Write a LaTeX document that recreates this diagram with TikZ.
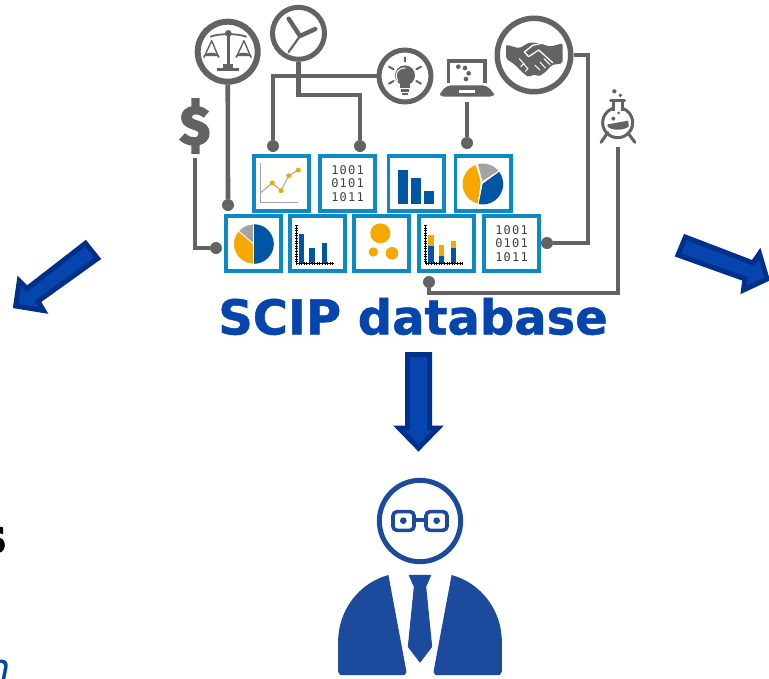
\documentclass[tikz,border=0pt]{standalone}
\usepackage{fontspec}
\setmainfont{DejaVu Sans}
\newfontfamily\binfont[LetterSpace=10]{DejaVu Sans Mono}
\newfontfamily\heavyfont[UprightFont=* Bold,FakeBold=1]{DejaVu Sans}
\newfontfamily\dollarfont[UprightFont=* Bold,FakeBold=4]{Fira Sans}
\usetikzlibrary{calc}
\definecolor{icongray}{HTML}{636363}
\definecolor{tileblue}{HTML}{0B8AC6}
\definecolor{titleblue}{HTML}{0645AD}
\definecolor{arrowedge}{HTML}{00308A}
\definecolor{chartblue}{HTML}{0055A5}
\definecolor{chartorange}{HTML}{F7A800}
\definecolor{chartgray}{HTML}{A3A3A3}
\definecolor{personblue}{HTML}{1C4A9C}
\tikzset{
  tile/.style={draw=tileblue,line width=3.6pt,fill=white,minimum size=55.4pt,inner sep=0pt,outer sep=1.8pt},
  ring/.style={draw=icongray,circle,fill=white,inner sep=0pt},
  joint/.style={fill=icongray,circle,minimum size=12pt,inner sep=0pt},
  conn/.style={draw=icongray,line width=4.6pt},
  block/.style={fill=titleblue,draw=arrowedge,line width=5pt,line join=miter},
  bincode/.style={font={\binfont\fontsize{12}{13.3}\selectfont},align=center,text=black!75,inner sep=0pt},
  icon/.style={fill=icongray},
  iconline/.style={draw=icongray,line cap=round,line join=round},
  axisline/.style={draw=black,line width=1pt},
  axisticks/.style={draw=black,line width=3pt,dash pattern=on 1pt off 1.6pt},
  slice/.style={draw=white,line width=0.8pt},
  person/.style={fill=personblue,draw=personblue,line width=1pt,line join=round},
  tinyscale/.style={x=0.33333pt,y=-0.33333pt},
}
\begin{document}
\begin{tikzpicture}[x=1pt,y=-1pt]
\useasboundingbox (0,0) rectangle (769,678);
\fill[white] (0,0) rectangle (769,678);

% free icon anchors
\coordinate (laptop) at (467,102);
\coordinate (flask) at (618,147);
\coordinate (dollar) at (195,158);
\coordinate (cclock) at (360,95);
\coordinate (cflask) at (618,293);
\coordinate (cback) at (429,293);
\coordinate (cshake) at (588,55);

% icon rings
\node[ring,line width=6pt,minimum size=60pt] (scales) at (227.7,51.7) {};
\node[ring,line width=5pt,minimum size=52pt] (clock) at (298.5,33.3) {};
\node[ring,line width=5pt,minimum size=52pt] (bulb) at (405,76) {};
\node[ring,line width=5.5pt,minimum size=73.5pt] (shake) at (534,55) {};

% joints
\node[joint] (jscales) at (228,205) {};
\node[joint] (jdollar) at (216,248) {};
\node[joint] (jbulb) at (273,146) {};
\node[joint] (jclock) at (360,146) {};
\node[joint] (jlaptop) at (467,143) {};
\node[joint] (jshake) at (547,243) {};
\node[joint] (jflask) at (429,282) {};

% connectors
\draw[conn] (scales) -- (jscales);
\draw[conn] (dollar) |- (jdollar);
\draw[conn] (bulb) -| (jbulb);
\draw[conn] (clock) |- (cclock) -- (jclock);
\draw[conn] (laptop) -- (jlaptop);
\draw[conn] (shake) -- (cshake) |- (jshake);
\draw[conn] (flask) -- (cflask) -- (cback) -- (jflask);

% tiles
\node[tile] (t1) at (281.5,183.5) {};
\node[tile] (t2) at (347.5,183.5) {};
\node[tile] (t3) at (416,183.5) {};
\node[tile] (t4) at (483,183.5) {};
\node[tile] (b1) at (253.5,243.5) {};
\node[tile] (b2) at (317.5,243.5) {};
\node[tile] (b3) at (381.5,243.5) {};
\node[tile] (b4) at (446.5,243.5) {};
\node[tile] (b5) at (511.5,243.5) {};

% t1 line chart
\draw[chartgray,line width=0.9pt] (260.7,163.3) -- (260.7,202.3) -- (298.3,202.3);
\draw[chartgray,line width=1pt] (260.7,192.7) -- (272.3,183) -- (281,190.7) -- (288.7,175.7) -- (298.3,170);
\foreach \p in {(272.3,183),(281,190.7),(288.7,175.7),(298.3,170)} \fill[chartorange] \p circle (2.5);

% binary tiles
\node[bincode] at (t2) {1001\\0101\\1011};
\node[bincode] at (b5) {1001\\0101\\1011};

% t3 bars
\fill[chartblue] (398,170.3) rectangle (408.3,204);
\fill[chartblue] (411,178) rectangle (421.3,204);
\fill[chartblue] (424,191) rectangle (434.3,204);

% t4 pie
\begin{scope}[shift={(482.7,184)},y=1pt]
\fill[chartorange] (-2,2) -- (110:20.2) arc[start angle=110,end angle=256,radius=20.2] -- cycle;
\fill[chartgray] (-0.3,3) -- (105:20.5) arc[start angle=105,end angle=40,radius=20.5] -- cycle;
\fill[chartblue] (-0.3,0) -- (37:20.5) arc[start angle=37,end angle=-103,radius=20.5] -- cycle;
\draw[white,line width=0.9pt] (-5.5,20.5) -- (-0.5,1) -- (-4.5,-20) (-0.5,1) -- (16.5,13);
\end{scope}

% b1 pie
\begin{scope}[shift={(253.5,244)},y=1pt]
\fill[chartblue] (0.5,19.8) arc[start angle=90,end angle=-90,radius=19.8] -- cycle;
\fill[chartgray,slice] (0,0) -- (90:20) arc[start angle=90,end angle=139,radius=20] -- cycle;
\fill[chartorange,slice] (0,0) -- (139:20) arc[start angle=139,end angle=270,radius=20] -- cycle;
\end{scope}

% b2 bars
\fill[chartblue] (299,233.7) rectangle (304.3,263);
\fill[chartblue] (309.3,248.3) rectangle (314.7,263);
\fill[chartblue] (321.7,242.7) rectangle (327,263);
\draw[axisline] (296,225) -- (296,263.3) -- (333.7,263.3);
\draw[axisticks] (296,225) -- (296,263.3);
\draw[axisticks] (296,263.3) -- (333.7,263.3);

% b3 circles
\fill[chartorange] (380.3,233.3) circle (10);
\fill[chartorange] (373.3,252) circle (4.7);
\fill[chartorange] (392,253.3) circle (6.3);

% b4 stacked bars
\fill[chartorange] (428.3,235) rectangle (433.7,245.7);
\fill[chartblue] (428.3,245.7) rectangle (433.7,263);
\fill[chartorange] (438.7,245) rectangle (444,255.7);
\fill[chartblue] (438.7,255.7) rectangle (444,263);
\fill[chartorange] (451,241.3) rectangle (456.3,248.3);
\fill[chartblue] (451,248.3) rectangle (456.3,263);
\draw[axisline] (425.7,225) -- (425.7,263.3) -- (462.7,263.3);
\draw[axisticks] (425.7,225) -- (425.7,263.3);
\draw[axisticks] (425.7,263.3) -- (462.7,263.3);

% scales glyph
\begin{scope}[shift={(170,0)},tinyscale]
\draw[iconline,line width=1.8pt] (122,110) .. controls (145,100) and (205,100) .. (228,110);
\fill[icongray] (175,100) circle (10);
\draw[iconline,line width=3.2pt] (175,100) -- (175,205);
\fill[icongray] (140,203) rectangle (208,214);
\fill[icongray] (160,192) rectangle (190,204);
\draw[iconline,line width=1.4pt] (102,172) -- (125,122) -- (146,172);
\draw[iconline,line width=1.4pt] (199,172) -- (222,122) -- (243,172);
\fill[icongray] (99,168) -- (149,168) -- (149,172) arc[start angle=0,end angle=-180,x radius=25,y radius=14] -- cycle;
\fill[icongray] (196,168) -- (246,168) -- (246,172) arc[start angle=0,end angle=-180,x radius=25,y radius=14] -- cycle;
% clock hands
\draw[iconline,line width=4.4pt] (356,56) -- (390,108) -- (436,87);
\draw[iconline,line width=2.2pt] (390,108) -- (356,156);
% bulb
\fill[icongray] (705,226) circle (30);
\fill[icongray] (690,245) rectangle (720,264);
\fill[white] (688,264) rectangle (722,268);
\fill[icongray] (692,268) rectangle (718,276);
\fill[icongray] (696,278) rectangle (714,285);
\draw[white,line width=1pt] (684,244) .. controls (670,218) and (685,204) .. (707,204);
\foreach \a/\b/\c/\d in {705/172/705/185,657/200/671/208,753/200/739/208,657/251/671/243,753/251/739/243}
  \draw[iconline,line width=2pt] (\a,\b) -- (\c,\d);
\end{scope}

% laptop, handshake, flask
\begin{scope}[shift={(440,0)},tinyscale]
\draw[icongray,line width=3.4pt] (25,248) -- (25,183) -- (135,183) -- (135,248);
\fill[icongray,rounded corners=4pt] (22,256) -- (138,256) -- (162,278) -- (162,290) -- (0,290) -- (0,278) -- cycle;
\fill[white] (58,271) rectangle (104,279);
\foreach \p in {(55,200),(75,204),(86,220),(78,237)} \fill[icongray] \p circle (7);
% handshake
\fill[icongray,rounded corners=2pt] (198,134) -- (238,145) -- (268,127) -- (300,130) -- (330,140) -- (368,130) -- (368,190) -- (335,195) -- (318,215) -- (296,230) -- (282,222) -- (268,232) -- (252,222) -- (226,195) -- (198,176) -- cycle;
\draw[white,line width=1.3pt,line join=round,line cap=round] (338,188) -- (296,150) -- (266,170) -- (253,156) -- (278,136) -- (305,130);
\draw[white,line width=1pt,line cap=round] (300,210) -- (285,196) (316,204) -- (300,186) (330,194) -- (312,176);
\draw[white,line width=1pt,line cap=round] (238,176) -- (262,204) (252,190) -- (242,200) (264,205) -- (256,214);
% flask
\draw[icongray,line width=3pt] (533,368) circle (45);
\fill[white] (522,318) rectangle (544,336);
\draw[icongray,line width=3pt,line join=round] (520,332) -- (520,302) -- (546,302) -- (546,332);
\draw[icongray,line width=3pt,line cap=round] (512,300) -- (554,300);
\fill[icongray] (503,373) -- (565,362) -- (566,380) .. controls (550,392) and (515,392) .. (503,380) -- cycle;
\fill[icongray] (523,274) circle (6.5);
\fill[icongray] (541,286) circle (5.5);
\fill[icongray] (520,356) circle (6);
\fill[icongray] (536,339) circle (4.5);
\draw[iconline,line width=3pt] (503,398) -- (483,427);
\draw[iconline,line width=3pt] (563,398) -- (585,427);
\end{scope}

% dollar
\node[text=icongray,font={\dollarfont\fontsize{54}{54}\selectfont},inner sep=0pt] (dollarsign) at (195,126) {\$};

% title and cropped texts
\node[text=titleblue,font={\heavyfont\fontsize{48}{48}\selectfont},inner sep=0pt] (title) at (413,316.5) {SCIP database};
\node[anchor=base east,text=black,font={\heavyfont\fontsize{48}{48}\selectfont},inner sep=0pt] (cuttext) at (7,553) {s};
\node[anchor=base east,text=titleblue,font={\fontsize{40}{40}\itshape\selectfont},inner sep=0pt] (cutlink) at (11,682) {n};

% block arrows
\draw[block] (85.5,243.3) -- (97.6,258.5) -- (38,301.2) -- (43.5,310.5) -- (15.7,306) -- (19.3,281) -- (27,288.6) -- cycle;
\draw[block] (685.4,237.1) -- (753,263) -- (759.5,253.5) -- (767,279) -- (743.5,290) -- (745,278.9) -- (678,255) -- cycle;
\draw[block] (407.5,354.5) -- (429.5,354.5) -- (429.5,428) -- (438,428) -- (418.5,448) -- (399,428) -- (407.5,428) -- cycle;

% person
\begin{scope}[shift={(320,470)},tinyscale]
\draw[personblue,line width=5pt] (300,153) circle (122);
\draw[personblue,line width=3.6pt,rounded corners=4pt] (219,125) rectangle (282,181);
\draw[personblue,line width=3.6pt,rounded corners=4pt] (318,125) rectangle (381,181);
\draw[personblue,line width=3.2pt] (282,150) -- (318,150);
\fill[personblue] (250,152) circle (10);
\fill[personblue] (350,152) circle (10);
\path[person] (204,317) .. controls (120,340) and (56,420) .. (56,515) -- (56,605) -- (62,614) -- (252,614) -- (258,606) -- cycle;
\path[person] (396,317) .. controls (480,340) and (544,420) .. (544,515) -- (544,605) -- (538,614) -- (348,614) -- (342,606) -- cycle;
\path[person] (268,316) -- (332,316) -- (317,350) -- (335,530) -- (300,576) -- (265,530) -- (283,350) -- cycle;
\end{scope}
\end{tikzpicture}
\end{document}
